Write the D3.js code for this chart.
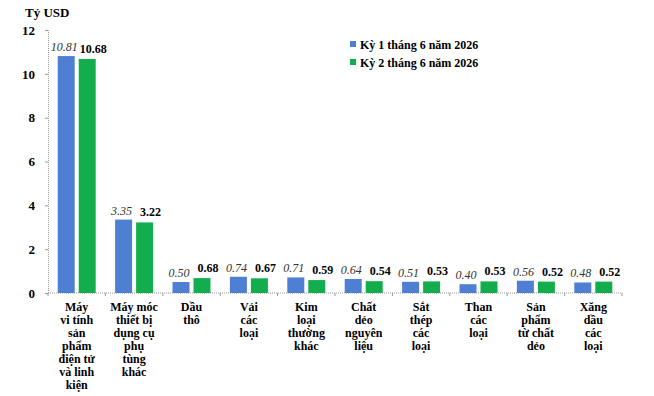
<!DOCTYPE html>
<meta charset="utf-8" />
<title>Tỷ USD</title>
<script src="https://d3js.org/d3.v7.min.js"></script>
<style>
body { margin: 0; background: #fff; }
svg, svg text { font-family: "Liberation Serif", "DejaVu Serif", serif !important; }
.axis text { font-weight: bold; font-size: 13px; fill: #000; }
.cat { font-weight: bold; font-size: 12px; fill: #000; }
.legend text { font-weight: bold; font-size: 12px; fill: #000; }
</style>
<div id="chart"></div>
<script>
var categories = [
    ["Máy", "vi tính", "sản", "phẩm", "điện tử", "và linh", "kiện"],
    ["Máy móc", "thiết bị", "dụng cụ", "phụ", "tùng", "khác"],
    ["Dầu", "thô"],
    ["Vải", "các", "loại"],
    ["Kim", "loại", "thường", "khác"],
    ["Chất", "dẻo", "nguyên", "liệu"],
    ["Sắt", "thép", "các", "loại"],
    ["Than", "các", "loại"],
    ["Sản", "phẩm", "từ chất", "dẻo"],
    ["Xăng", "dầu", "các", "loại"]
];
var series1 = [10.81, 3.35, 0.50, 0.74, 0.71, 0.64, 0.51, 0.40, 0.56, 0.48];
var series2 = [10.68, 3.22, 0.68, 0.67, 0.59, 0.54, 0.53, 0.53, 0.52, 0.52];
var seriesNames = ["Kỳ 1 tháng 6 năm 2026", "Kỳ 2 tháng 6 năm 2026"];
var yTicks = [0, 2, 4, 6, 8, 10, 12];

var W = 654, H = 396;
var margin = { top: 30, right: 32, bottom: 103, left: 48 };
var width = W - margin.left - margin.right,
    height = H - margin.top - margin.bottom;

var svg = d3.select("#chart").append("svg")
    .attr("width", W).attr("height", H)
    .attr("font-family", "Liberation Serif");

var g = svg.append("g")
    .attr("transform", "translate(" + margin.left + "," + margin.top + ")");

var x = d3.scaleBand().domain(d3.range(categories.length)).range([0, width]).padding(0);
var y = d3.scaleLinear().domain([0, 12]).range([height, 0]);

var barW = 17, gap = 4;
var blue = "#4F7FD3", green = "#12AE4E";

// y axis
var yAxis = g.append("g").attr("class", "axis")
    .call(d3.axisLeft(y).tickValues(yTicks).tickSize(3).tickPadding(10));
yAxis.attr("font-family", null).attr("font-size", null);
yAxis.select(".domain").attr("stroke", "#999").attr("stroke-dasharray", "1,1");
yAxis.selectAll(".tick line").attr("stroke", "#999");

// x axis
var xAxis = g.append("g").attr("transform", "translate(0," + height + ")");
xAxis.append("line").attr("x1", 0).attr("x2", width)
    .attr("stroke", "#999").attr("stroke-dasharray", "1,1");
xAxis.selectAll(".xt").data(d3.range(categories.length + 1)).enter().append("line")
    .attr("x1", function(d) { return d < categories.length ? x(d) : width; })
    .attr("x2", function(d) { return d < categories.length ? x(d) : width; })
    .attr("y1", 0).attr("y2", 3).attr("stroke", "#999");

// bars
var groups = g.selectAll(".grp").data(categories).enter().append("g")
    .attr("transform", function(d, i) { return "translate(" + (x(i) + x.bandwidth() / 2) + ",0)"; });

groups.append("rect")
    .attr("x", -barW - gap / 2)
    .attr("width", barW)
    .attr("y", function(d, i) { return y(series1[i]); })
    .attr("height", function(d, i) { return height - y(series1[i]); })
    .attr("fill", blue);

groups.append("rect")
    .attr("x", gap / 2)
    .attr("width", barW)
    .attr("y", function(d, i) { return y(series2[i]); })
    .attr("height", function(d, i) { return height - y(series2[i]); })
    .attr("fill", green);

groups.append("text")
    .attr("x", -barW / 2 - gap / 2 - 2)
    .attr("y", function(d, i) { return y(series1[i]) - 5; })
    .attr("text-anchor", "middle")
    .style("font-style", "italic").style("font-size", "12px").style("fill", "#333")
    .text(function(d, i) { return series1[i].toFixed(2); });

groups.append("text")
    .attr("x", barW / 2 + gap / 2 + 6)
    .attr("y", function(d, i) { return y(series2[i]) - 6; })
    .attr("text-anchor", "middle")
    .style("font-weight", "bold").style("font-size", "12px").style("fill", "#000")
    .text(function(d, i) { return series2[i].toFixed(2); });

// category labels
groups.append("text").attr("class", "cat")
    .attr("text-anchor", "middle")
    .attr("y", height + 18)
    .selectAll("tspan").data(function(d) { return d; }).enter().append("tspan")
    .attr("x", 0)
    .attr("dy", function(d, i) { return i === 0 ? 0 : 13; })
    .text(function(d) { return d; });

// unit
svg.append("text").attr("x", 25).attr("y", 17)
    .style("font-weight", "bold").style("font-size", "13px")
    .text("Tỷ USD");

// legend
var legend = svg.append("g").attr("class", "legend")
    .attr("transform", "translate(350,49)");
var li = legend.selectAll("g").data(seriesNames).enter().append("g")
    .attr("transform", function(d, i) { return "translate(0," + (i * 18) + ")"; });
li.append("rect").attr("x", 0).attr("y", -8).attr("width", 6).attr("height", 6)
    .attr("fill", function(d, i) { return i === 0 ? blue : green; });
li.append("text").attr("x", 10).attr("y", 0).text(function(d) { return d; });
</script>
